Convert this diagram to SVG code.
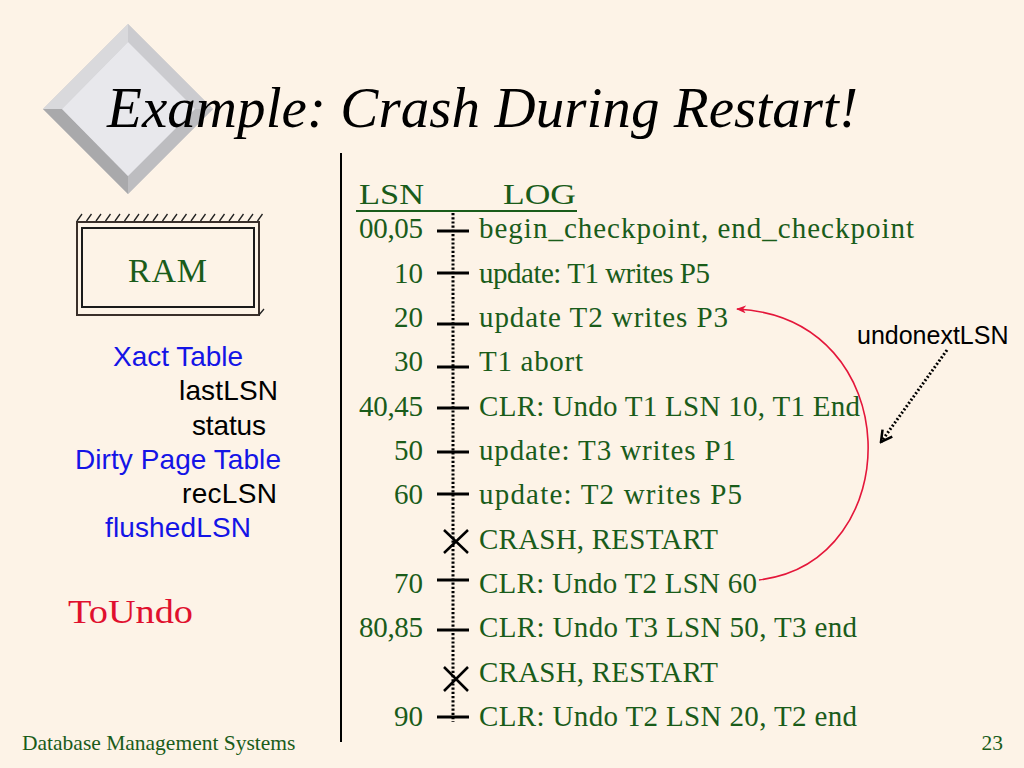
<svg xmlns="http://www.w3.org/2000/svg" width="1024" height="768" viewBox="0 0 1024 768">
<style>
.log{font-family:"Liberation Serif","Times New Roman",serif;font-size:29px;fill:#1a5c1a}
.num{font-family:"Liberation Serif","Times New Roman",serif;font-size:29px;fill:#1a5c1a;text-anchor:end}
.sans{font-family:"Liberation Sans",Arial,sans-serif;font-size:28px}
.blue{fill:#1414e6}
.blk{fill:#000}
.tick{stroke:#000;stroke-width:3}
.cross{stroke:#000;stroke-width:2.5}
</style>
<defs>
<marker id="redhead" markerWidth="10" markerHeight="8" refX="9" refY="4" orient="auto" markerUnits="userSpaceOnUse">
<path d="M0,0 L10,4 L0,8 L3,4 Z" fill="#e4163a"/>
</marker>
<marker id="blkhead" markerWidth="14" markerHeight="14" refX="12" refY="7" orient="auto" markerUnits="userSpaceOnUse">
<path d="M1,1 L12,7 L1,13" fill="none" stroke="#000" stroke-width="2.5"/>
</marker>
</defs>
<rect width="1024" height="768" fill="#fdf3e7"/>

<g id="logo">
<polygon points="128,24 213,109 128,194 43,109" fill="#c8c8cc"/>
<polygon points="128,24 43,109 62,109 128,42" fill="#d9d9dc"/>
<polygon points="128,24 213,109 195,109 128,42" fill="#cbcbcf"/>
<polygon points="43,109 128,194 128,176 62,109" fill="#a9a9ab"/>
<polygon points="213,109 128,194 128,176 195,109" fill="#bdbdc0"/>
<polygon points="128,42 195,109 128,176 62,109" fill="#e8e8ec"/>
</g>

<text id="title" x="107" y="127" font-family="'Liberation Serif','Times New Roman',serif" font-style="italic" font-size="57" fill="#000" textLength="751" lengthAdjust="spacing">Example: Crash During Restart!</text>

<line x1="341" y1="153" x2="341" y2="742" stroke="#000" stroke-width="2"/>

<g id="ram">
<rect x="77" y="222" width="182" height="93" fill="none" stroke="#3a2f2a" stroke-width="2"/>
<rect x="82" y="228" width="172" height="79" fill="none" stroke="#1a1a1a" stroke-width="2"/>
<path d="M77,221 L82,214 M86.5,221 L91.5,214 M96,221 L101,214 M105.5,221 L110.5,214 M115,221 L120,214 M124.5,221 L129.5,214 M134,221 L139,214 M143.5,221 L148.5,214 M153,221 L158,214 M162.5,221 L167.5,214 M172,221 L177,214 M181.5,221 L186.5,214 M191,221 L196,214 M200.5,221 L205.5,214 M210,221 L215,214 M219.5,221 L224.5,214 M229,221 L234,214 M238.5,221 L243.5,214 M248,221 L253,214 M257.5,221 L262.5,214 M259,315 L264,309" stroke="#222" stroke-width="1.3" fill="none"/>
<text x="128" y="282" font-family="'Liberation Serif','Times New Roman',serif" font-size="34" fill="#1a5c1a" textLength="79" lengthAdjust="spacing">RAM</text>
</g>

<g id="tables">
<text x="113" y="366" class="sans blue" textLength="130">Xact Table</text>
<text x="179" y="400" class="sans blk" textLength="99">lastLSN</text>
<text x="192" y="435" class="sans blk" textLength="74">status</text>
<text x="75" y="469" class="sans blue" textLength="206">Dirty Page Table</text>
<text x="182" y="503" class="sans blk" textLength="95">recLSN</text>
<text x="105" y="537" class="sans blue" textLength="146">flushedLSN</text>
</g>

<text id="toundo" x="68" y="623" font-family="'Liberation Serif','Times New Roman',serif" font-size="34" fill="#e0102e" textLength="125" lengthAdjust="spacingAndGlyphs">ToUndo</text>

<g id="header">
<text x="359" y="204" class="log" font-size="32" textLength="65" lengthAdjust="spacingAndGlyphs">LSN</text>
<text x="503" y="204" class="log" font-size="32" textLength="73" lengthAdjust="spacingAndGlyphs">LOG</text>
<line x1="356" y1="211" x2="577" y2="211" stroke="#1a5c1a" stroke-width="2"/>
</g>

<g id="timeline">
<line x1="453" y1="213" x2="453" y2="722" stroke="#000" stroke-width="3" stroke-dasharray="2.2,2"/>
<line class="tick" x1="437" y1="231" x2="469" y2="231"/>
<line class="tick" x1="437" y1="273" x2="469" y2="273"/>
<line class="tick" x1="437" y1="324" x2="469" y2="324"/>
<line class="tick" x1="437" y1="367" x2="469" y2="367"/>
<line class="tick" x1="437" y1="408" x2="469" y2="408"/>
<line class="tick" x1="437" y1="452" x2="469" y2="452"/>
<line class="tick" x1="437" y1="494" x2="469" y2="494"/>
<path class="cross" d="M444,530 L468,553 M468,530 L444,553"/>
<line class="tick" x1="437" y1="580" x2="469" y2="580"/>
<line class="tick" x1="437" y1="630" x2="469" y2="630"/>
<path class="cross" d="M444,667 L468,691 M468,667 L444,691"/>
<line class="tick" x1="437" y1="717" x2="469" y2="717"/>
</g>

<g id="entries">
<text class="num" x="423" y="238" textLength="64">00,05</text><text class="log" x="479" y="238" textLength="435">begin_checkpoint, end_checkpoint</text>
<text class="num" x="423" y="283">10</text><text class="log" x="479" y="283" textLength="231">update: T1 writes P5</text>
<text class="num" x="423" y="327">20</text><text class="log" x="479" y="327" textLength="249">update T2 writes P3</text>
<text class="num" x="423" y="371">30</text><text class="log" x="479" y="371" textLength="104">T1 abort</text>
<text class="num" x="423" y="416" textLength="64">40,45</text><text class="log" x="479" y="416" textLength="381">CLR: Undo T1 LSN 10, T1 End</text>
<text class="num" x="423" y="460">50</text><text class="log" x="479" y="460" textLength="257">update: T3 writes P1</text>
<text class="num" x="423" y="504">60</text><text class="log" x="479" y="504" textLength="263">update: T2 writes P5</text>
<text class="log" x="479" y="549" textLength="239">CRASH, RESTART</text>
<text class="num" x="423" y="593">70</text><text class="log" x="479" y="593" textLength="278">CLR: Undo T2 LSN 60</text>
<text class="num" x="423" y="637" textLength="64">80,85</text><text class="log" x="479" y="637" textLength="378">CLR: Undo T3 LSN 50, T3 end</text>
<text class="log" x="479" y="682" textLength="239">CRASH, RESTART</text>
<text class="num" x="423" y="726">90</text><text class="log" x="479" y="726" textLength="378">CLR: Undo T2 LSN 20, T2 end</text>
</g>

<g id="connectors">
<path d="M759,580 C908,562 908,318 737,309" fill="none" stroke="#e4163a" stroke-width="1.6" marker-end="url(#redhead)"/>
<line x1="947" y1="350" x2="881" y2="442" stroke="#000" stroke-width="3" stroke-dasharray="2,2" marker-end="url(#blkhead)"/>
</g>

<text id="undonext" x="857" y="344" font-family="'Liberation Sans',Arial,sans-serif" font-size="25" fill="#000">undonextLSN</text>

<g id="footer">
<text x="22" y="750" font-family="'Liberation Serif','Times New Roman',serif" font-size="21.5" fill="#1a5c1a">Database Management Systems</text>
<text x="1003" y="750" text-anchor="end" font-family="'Liberation Serif','Times New Roman',serif" font-size="21.5" fill="#1a5c1a">23</text>
</g>
</svg>
